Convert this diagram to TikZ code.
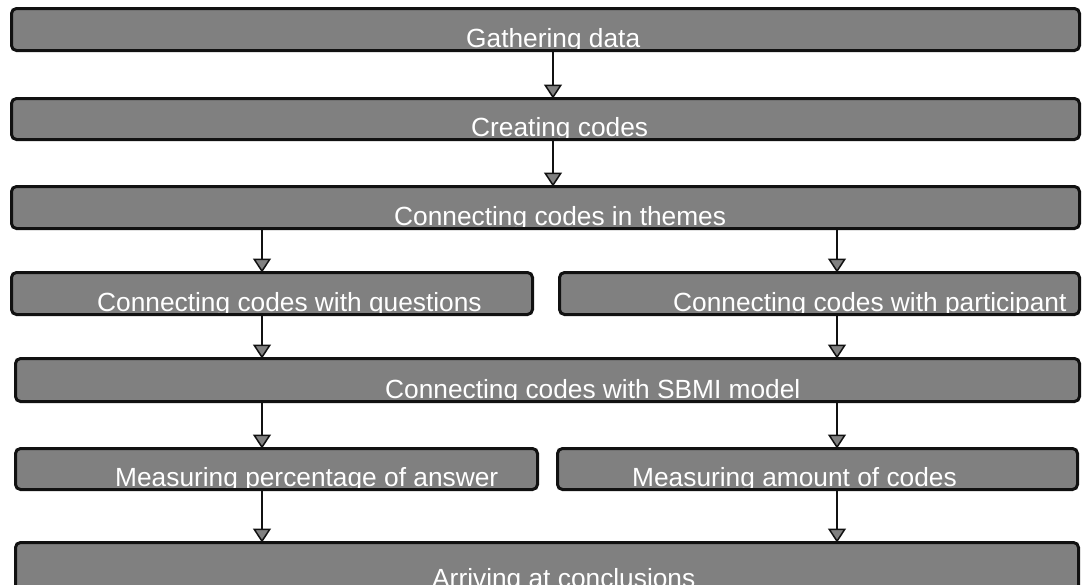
\documentclass[tikz,border=0pt]{standalone}
\usepackage{fontspec}
\setmainfont{Liberation Sans}
\usetikzlibrary{arrows.meta}
\definecolor{boxgray}{HTML}{808080}
\definecolor{edge}{HTML}{111111}
\tikzset{
  box/.style={fill=boxgray, rounded corners=5pt,
    outer sep=0pt, inner sep=0pt, anchor=north west},
  frame/.style={draw=edge, line width=3pt, rounded corners=5pt},
  lbltext/.style={anchor=base west, text=white, inner sep=0pt,
    font=\fontsize{26.3}{30}\selectfont},
  flow/.style={draw=edge, line width=2.5pt,
    -{Triangle[width=18pt, length=14pt, fill=boxgray, line width=1.5pt]}}
}
% \procbox{name}{left}{top}{right}{bottom}{text start}{text}
% fill, then the white label sitting on the bottom edge, then the frame on top
\newcommand\procbox[7]{%
  \node[box, minimum width={#4-#2-3}, minimum height={#5-#3-3}]
        (#1) at (#2+1.5,#3+1.5) {};
  \node[lbltext] (#1-label) at (#6,#5-5) {#7};
  \draw[frame] (#1.south west) rectangle (#1.north east);}
\begin{document}
\begin{tikzpicture}[x=1pt, y=-1pt]
\useasboundingbox (0,0) rectangle (1082,584);
% arrow columns
\coordinate (cm) at (553,0);
\coordinate (cl) at (262,0);
\coordinate (cr) at (837,0);
% process boxes
\procbox{gather}{10}{7}{1081}{52}{466}{Gathering data}
\procbox{create}{10}{97}{1081}{141}{471}{Creating codes}
\procbox{themes}{10}{185}{1081}{230}{394}{Connecting codes in themes}
\procbox{quest}{10}{271}{534}{316}{97}{Connecting codes with questions}
\procbox{partic}{558}{271}{1081}{316}{673}{Connecting codes with participant}
\procbox{sbmi}{14}{357}{1081}{403}{385}{Connecting codes with SBMI model}
\procbox{percent}{14}{447}{539}{491}{115}{Measuring percentage of answer}
\procbox{amount}{556}{447}{1079}{491}{632}{Measuring amount of codes}
\procbox{concl}{14}{541}{1080}{592}{432}{Arriving at conclusions}
% connectors
\draw[flow] (gather.south -| cm) -- (create.north -| cm);
\draw[flow] (create.south -| cm) -- (themes.north -| cm);
\draw[flow] (themes.south -| cl) -- (quest.north -| cl);
\draw[flow] (themes.south -| cr) -- (partic.north -| cr);
\draw[flow] (quest.south -| cl) -- (sbmi.north -| cl);
\draw[flow] (partic.south -| cr) -- (sbmi.north -| cr);
\draw[flow] (sbmi.south -| cl) -- (percent.north -| cl);
\draw[flow] (sbmi.south -| cr) -- (amount.north -| cr);
\draw[flow] (percent.south -| cl) -- (concl.north -| cl);
\draw[flow] (amount.south -| cr) -- (concl.north -| cr);
\end{tikzpicture}
\end{document}
